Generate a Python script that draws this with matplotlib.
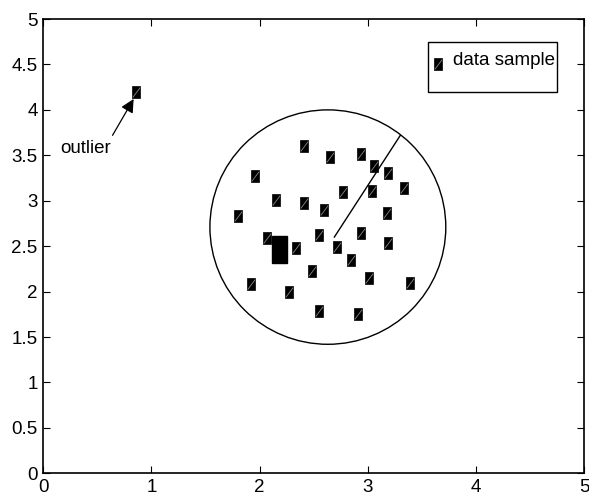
import matplotlib
matplotlib.use('Agg')
import matplotlib.pyplot as plt
from matplotlib.patches import Ellipse, Rectangle
from matplotlib.path import Path

plt.rcParams['font.family'] = ['Liberation Sans', 'DejaVu Sans']

# data samples
xs = [2.41, 2.65, 2.94, 3.06, 3.19, 1.96, 3.33, 2.77, 3.04, 2.15,
      2.41, 2.59, 3.18, 1.80, 2.07, 2.55, 2.94, 2.34, 2.71, 3.19,
      2.84, 2.48, 3.01, 1.92, 3.39, 2.27, 2.55, 2.91]
ys = [3.60, 3.48, 3.51, 3.38, 3.30, 3.27, 3.14, 3.10, 3.11, 3.01,
      2.97, 2.90, 2.87, 2.83, 2.59, 2.62, 2.65, 2.48, 2.49, 2.53,
      2.35, 2.23, 2.15, 2.08, 2.09, 2.00, 1.79, 1.75]
outlier_x = [0.86]
outlier_y = [4.20]

# cluster centre block
centre_x, centre_y = 2.18, 2.46
centre_w, centre_h = 0.14, 0.30

# circle around the cluster (drawn as ellipse in data units)
circ_x, circ_y = 2.63, 2.71
circ_w, circ_h = 2.18, 2.58
# radius line
rad_x = [2.69, 3.30]
rad_y = [2.60, 3.72]

box = [(-0.75, -1), (0.75, -1), (0.75, 1), (-0.75, 1), (-0.75, -1)]
slash = Path([(-0.45, -0.6), (0.45, 0.6)], [Path.MOVETO, Path.LINETO])

fig = plt.figure(figsize=(5.89, 4.98), dpi=100)
ax = fig.add_axes([0.0735, 0.0496, 0.9185, 0.9122])

def samples(x, y, **kw):
    ax.plot(x, y, ls='none', marker=box, ms=8.3, mfc='black', mec='black', mew=0.5, **kw)
    ax.plot(x, y, ls='none', marker=slash, ms=7, mec='#888888', mew=0.6, **kw)

samples(xs, ys)
samples(outlier_x, outlier_y)

ax.add_patch(Rectangle((centre_x - centre_w / 2, centre_y - centre_h / 2), centre_w, centre_h,
                       fc='black', ec='black'))
ax.add_patch(Ellipse((circ_x, circ_y), circ_w, circ_h, fill=False, ec='black', lw=1.0))
ax.plot(rad_x, rad_y, color='black', lw=1.0)

ax.annotate('', xy=(0.835, 4.12), xytext=(0.64, 3.72),
            arrowprops=dict(arrowstyle='-|>', color='black', lw=0.9,
                            mutation_scale=20, shrinkA=0, shrinkB=0))
ax.text(0.39, 3.57, 'outlier', fontsize=13.5, ha='center', va='center')

# legend drawn by hand
ax.add_patch(Rectangle((0.712, 0.840), 0.237, 0.110, transform=ax.transAxes,
                       fill=False, ec='black', lw=1.0))
samples([0.729], [0.902], transform=ax.transAxes)
ax.text(0.757, 0.909, 'data sample', transform=ax.transAxes, fontsize=13.5,
        ha='left', va='center')

ax.set_xlim(0, 5)
ax.set_ylim(0, 5)
ax.set_xticks([0, 1, 2, 3, 4, 5])
ax.set_yticks([0, 0.5, 1, 1.5, 2, 2.5, 3, 3.5, 4, 4.5, 5])
ax.set_yticklabels(['0', '0.5', '1', '1.5', '2', '2.5', '3', '3.5', '4', '4.5', '5'])
ax.tick_params(direction='in', length=5, width=0.8, top=True, right=True, labelsize=13.5)
ax.tick_params(axis='x', pad=4)
ax.tick_params(axis='y', pad=4)
for s in ax.spines.values():
    s.set_linewidth(1.2)

fig.savefig('out.png', dpi=100)
